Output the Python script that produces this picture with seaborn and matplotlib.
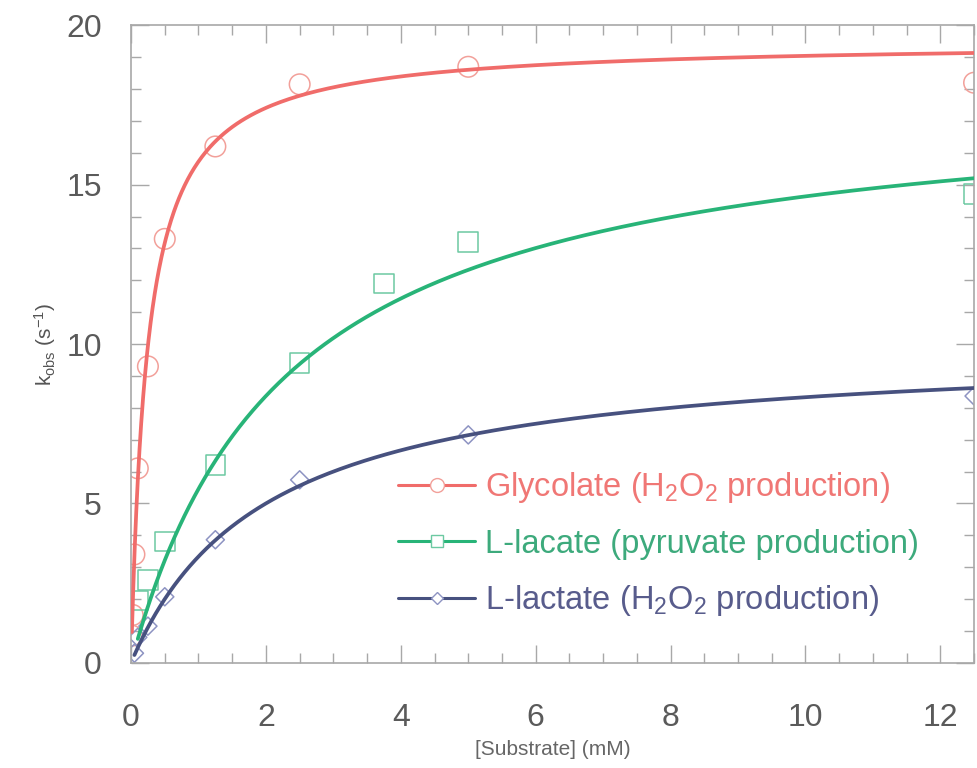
import numpy as np
import matplotlib
matplotlib.use("Agg")
import matplotlib.pyplot as plt
import seaborn as sns
from matplotlib.lines import Line2D
from matplotlib.ticker import MultipleLocator

# Substrate concentrations (mM) and observed rate constants (s^-1)
glycolate_conc = [0.0125, 0.025, 0.05, 0.1, 0.25, 0.5, 1.25, 2.5, 5.0, 12.5]
glycolate_kobs = [0.85, 1.5, 3.4, 6.1, 9.3, 13.3, 16.2, 18.15, 18.7, 18.2]

lacate_conc = [0.1, 0.25, 0.5, 1.25, 2.5, 3.75, 5.0, 12.5]
lacate_kobs = [1.95, 2.6, 3.8, 6.2, 9.4, 11.9, 13.2, 14.7]

lactate_conc = [0.05, 0.1, 0.25, 0.5, 1.25, 2.5, 5.0, 12.5]
lactate_kobs = [0.3, 0.8, 1.15, 2.07, 3.86, 5.74, 7.15, 8.37]

# Michaelis-Menten fit results: kcat (s^-1) and Km (mM)
fit_kcat = [19.5, 18.0, 10.0]
fit_km = [0.24, 2.3, 2.0]

series_labels = [
    "Glycolate (H$_2$O$_2$ production)",
    "L-lacate (pyruvate production)",
    "L-lactate (H$_2$O$_2$ production)",
]

x_ticks = [0, 2, 4, 6, 8, 10, 12]
y_ticks = [0, 5, 10, 15, 20]

line_colors = ["#f06c6a", "#28b478", "#47517f"]
marker_colors = ["#f2a09a", "#6cc9a2", "#8d93c2"]
text_colors = ["#f07775", "#3daa7c", "#585c8c"]
markers = ["o", "s", "D"]
marker_sizes = [220, 200, 85]

sns.set_theme(style="white")
plt.rcParams["font.family"] = ["Liberation Sans", "DejaVu Sans"]
plt.rcParams["mathtext.default"] = "regular"

fig = plt.figure(figsize=(9.78, 7.68), dpi=100)
ax = fig.add_axes([0.134, 0.137, 0.862, 0.830])

conc_sets = [glycolate_conc, lacate_conc, lactate_conc]
kobs_sets = [glycolate_kobs, lacate_kobs, lactate_kobs]
x_max = 12.5

for i in range(3):
    start = conc_sets[i][0]
    xs = np.geomspace(start, x_max, 500)
    ys = fit_kcat[i] * xs / (fit_km[i] + xs)
    sns.lineplot(x=xs, y=ys, color=line_colors[i], linewidth=2.7,
                 estimator=None, sort=False, ax=ax, zorder=3)
    sns.scatterplot(x=conc_sets[i], y=kobs_sets[i], marker=markers[i],
                    s=marker_sizes[i], ax=ax, zorder=2, color=marker_colors[i])
    coll = ax.collections[-1]
    coll.set_facecolor("none")
    coll.set_edgecolor(marker_colors[i])
    coll.set_linewidth(1.1)

ax.set_xlim(0, x_max)
ax.set_ylim(0, 20)
ax.set_xticks(x_ticks)
ax.set_yticks(y_ticks)
ax.xaxis.set_minor_locator(MultipleLocator(0.5))
ax.yaxis.set_minor_locator(MultipleLocator(1))

spine_col = "#a8a8a8"
for sp in ax.spines.values():
    sp.set_color(spine_col)
    sp.set_linewidth(1.2)

ax.tick_params(which="both", direction="in", top=True, right=True,
               bottom=True, left=True, color=spine_col, width=1.0,
               labelcolor="#5a5a5a", labelsize=23)
ax.tick_params(which="major", length=13)
ax.tick_params(which="minor", length=7)
ax.tick_params(axis="x", which="major", pad=29)
ax.tick_params(axis="y", which="major", pad=21)

ax.set_xlabel("[Substrate] (mM)", fontsize=15, color="#666666", labelpad=5)
ax.set_ylabel("k$_{obs}$ (s$^{-1}$)", fontsize=15, color="#555555", labelpad=6)

handles = [
    Line2D([0], [0], color=line_colors[i], linewidth=2.2, marker=markers[i],
           markersize=[10, 9, 6][i], markerfacecolor="white",
           markeredgecolor=marker_colors[i], markeredgewidth=1.0)
    for i in range(3)
]
leg = ax.legend(handles, series_labels, loc="center left",
                bbox_to_anchor=(0.317, 0.186), frameon=False, fontsize=23.5,
                handlelength=2.35, handletextpad=0.3, labelspacing=0.72,
                borderpad=0, borderaxespad=0)
for txt, c in zip(leg.get_texts(), text_colors):
    txt.set_color(c)

fig.savefig("out.png", dpi=100, facecolor="white")
